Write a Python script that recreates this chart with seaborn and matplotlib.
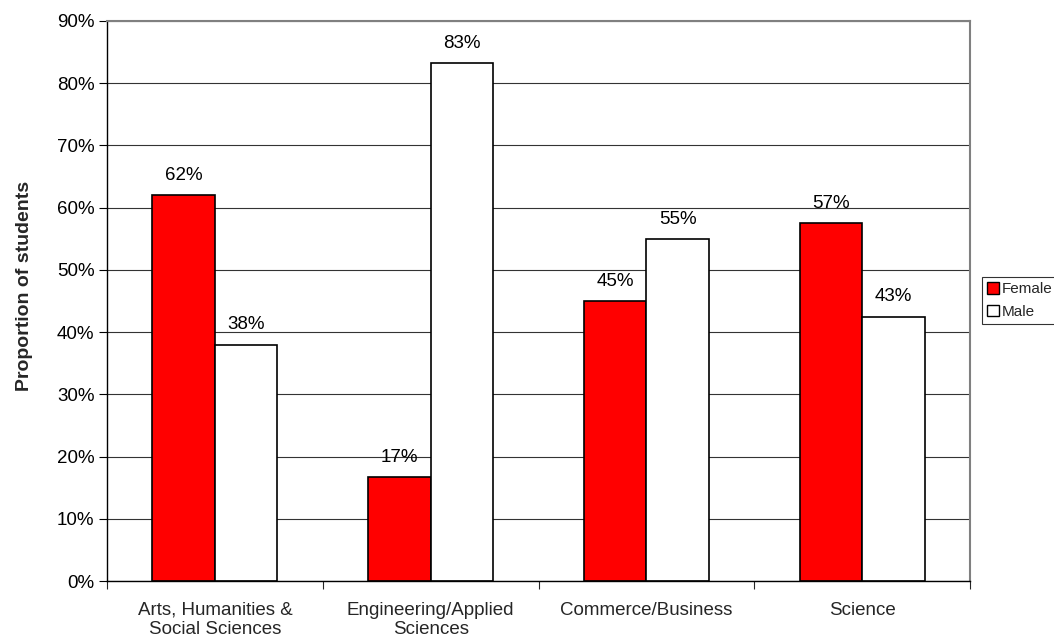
import matplotlib
matplotlib.use("Agg")
import matplotlib.pyplot as plt
import seaborn as sns
import pandas as pd
import numpy as np
from matplotlib.ticker import PercentFormatter, FixedLocator
from matplotlib.patches import Patch

categories = ["Arts, Humanities &\nSocial Sciences", "Engineering/Applied\nSciences",
              "Commerce/Business", "Science"]
female = [0.62, 0.167, 0.45, 0.575]
male = [0.38, 0.833, 0.55, 0.425]
labels_f = ["62%", "17%", "45%", "57%"]
labels_m = ["38%", "83%", "55%", "43%"]

sns.set_theme(style="white")
plt.rcParams['font.family'] = ['Liberation Sans', 'DejaVu Sans']

df = pd.DataFrame({
    "Category": categories * 2,
    "Value": female + male,
    "Sex": ["Female"] * 4 + ["Male"] * 4,
})

fig = plt.figure(figsize=(10.54, 6.42), dpi=100)
ax = fig.add_axes([107/1054, 1 - 581/642, (970-107)/1054, (581-21)/642])

sns.barplot(data=df, x="Category", y="Value", hue="Sex",
            palette={"Female": "#ff0000", "Male": "#ffffff"},
            width=0.58, edgecolor="black", linewidth=1.2, ax=ax,
            legend=False, saturation=1)

ax.set_ylim(0, 0.9)
ax.set_xlim(-0.5, 3.5)
ax.yaxis.set_major_locator(FixedLocator(np.arange(0, 0.91, 0.1)))
ax.yaxis.set_major_formatter(PercentFormatter(1.0, decimals=0))
ax.yaxis.grid(True, color="#333333", linewidth=0.8)
ax.set_axisbelow(True)

for cont, labs in zip(ax.containers, [labels_f, labels_m]):
    ax.bar_label(cont, labels=labs, padding=8, fontsize=13.5, color="black")

ax.set_xlabel("")
ax.set_ylabel("Proportion of students", fontsize=14, fontweight="bold")
ax.yaxis.set_label_coords((33 - 107) / 863, (581 - 286) / 560)
ax.tick_params(axis="y", labelsize=13.5, length=6, width=0.8, direction="out",
               left=True, colors="black", pad=3)
ax.tick_params(axis="x", which="major", labelsize=13.5, length=0, pad=15)
ax.set_xticks([-0.5, 0.5, 1.5, 2.5, 3.5], minor=True)
ax.tick_params(axis="x", which="minor", length=6, width=0.8, bottom=True, direction="out")
for t in ax.get_xticklabels():
    t.set_linespacing(1.2)

for s in ["left", "bottom"]:
    ax.spines[s].set_color("black")
    ax.spines[s].set_linewidth(1.0)
for s in ["top", "right"]:
    ax.spines[s].set_color("#808080")
    ax.spines[s].set_linewidth(1.5)

handles = [Patch(facecolor="#ff0000", edgecolor="black", label="Female"),
           Patch(facecolor="#ffffff", edgecolor="black", label="Male")]
leg = fig.legend(handles=handles, loc="upper left", bbox_to_anchor=(982/1054, 1 - 277/642),
                 fontsize=11, frameon=True, fancybox=False, handlelength=0.75,
                 handleheight=0.75, handletextpad=0.2, borderpad=0.35, labelspacing=0.55,
                 borderaxespad=0)
leg.get_frame().set_edgecolor("black")
leg.get_frame().set_linewidth(0.8)

fig.savefig("out.png", dpi=100)
